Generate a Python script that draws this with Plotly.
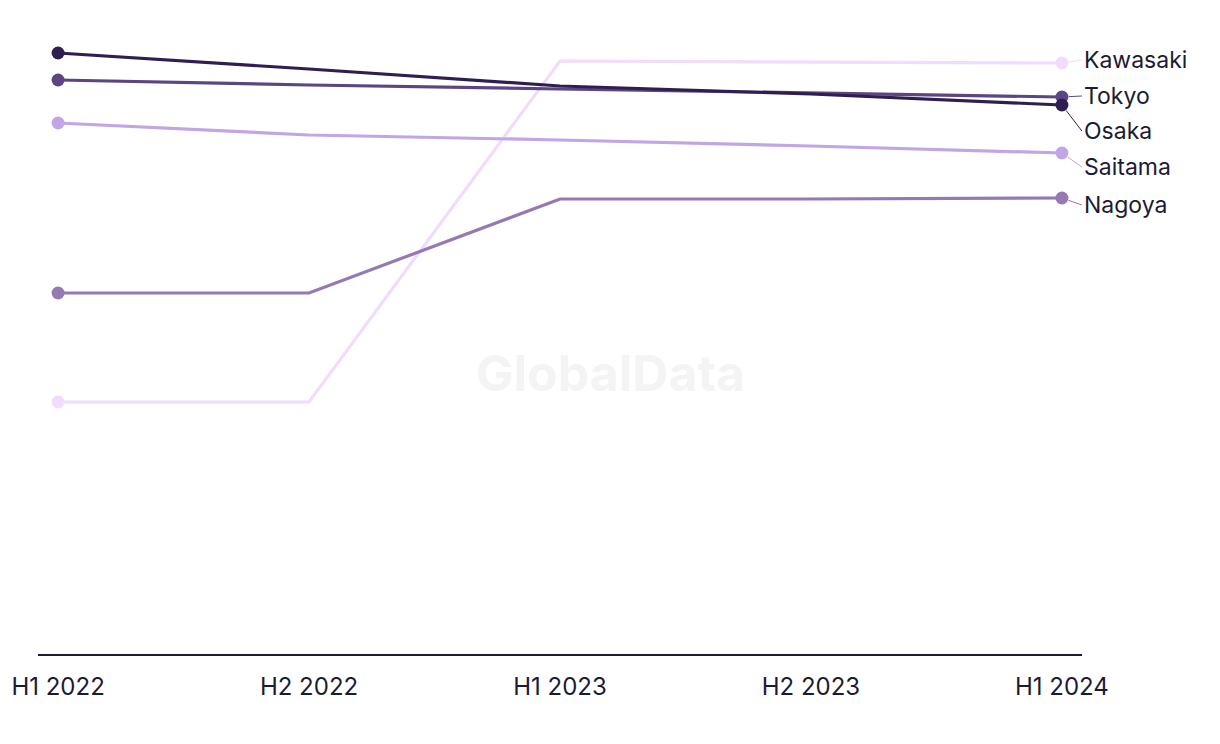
import plotly.graph_objects as go

periods = ["H1 2022", "H2 2022", "H1 2023", "H2 2023", "H1 2024"]
cities = ["Kawasaki", "Saitama", "Nagoya", "Tokyo", "Osaka"]
kawasaki = [25.2, 25.2, 59.3, 59.2, 59.1]
saitama = [53.1, 51.9, 51.4, 50.8, 50.1]
nagoya = [36.1, 36.1, 45.5, 45.5, 45.6]
tokyo = [57.4, 56.9, 56.5, 56.1, 55.7]
osaka = [60.1, 58.5, 56.8, 56.0, 54.9]
series = {"Kawasaki": kawasaki, "Saitama": saitama, "Nagoya": nagoya,
          "Tokyo": tokyo, "Osaka": osaka}

colors = {"Kawasaki": "#f0dcfc", "Saitama": "#c1a6e6", "Nagoya": "#9479b5",
          "Tokyo": "#5b4682", "Osaka": "#2f1f50"}
# vertical pixel offset of each end label from its last point
label_dy = {"Kawasaki": -3, "Tokyo": -1, "Osaka": 26, "Saitama": 14, "Nagoya": 7}

INK = "#1c1b33"
FONT = "Inter, 'Noto Sans', sans-serif"
xs = list(range(len(periods)))

fig = go.Figure()
for c in cities:
    vals = series[c]
    fig.add_trace(go.Scatter(
        x=xs, y=vals, mode="lines", name=c,
        line=dict(color=colors[c], width=3.2),
        hovertemplate=f"<b>{c}</b><br>%{{text}}: %{{y}}<extra></extra>",
        text=periods, showlegend=False))
    # dots on the first and last period only
    fig.add_trace(go.Scatter(
        x=[xs[0], xs[-1]], y=[vals[0], vals[-1]], mode="markers",
        marker=dict(size=13, color=colors[c], opacity=1, line=dict(width=0)),
        hoverinfo="skip", showlegend=False))
    fig.add_annotation(
        x=xs[-1], y=vals[-1], xref="x", yref="y", text=c,
        showarrow=True, arrowhead=0, arrowwidth=1, arrowcolor=colors[c],
        ax=20, ay=label_dy[c], xanchor="left", yanchor="middle",
        standoff=7, font=dict(size=23, color=INK, family=FONT))

fig.add_annotation(x=0.548, y=0.443, xref="paper", yref="paper", text="<b>GlobalData</b>",
                   showarrow=False, font=dict(size=50, color="#f4f4f4", family=FONT))

# the page body adds an 8px offset, so the figure is sized to compensate
fig.update_layout(
    width=1204, height=728,
    margin=dict(l=30, r=130, t=12, b=82),
    paper_bgcolor="white", plot_bgcolor="white",
    font=dict(family=FONT, color=INK, size=23),
)
fig.update_xaxes(range=[-0.08, len(periods) - 1 + 0.08], tickvals=xs, ticktext=periods,
                 showgrid=False, zeroline=False, showline=True, linecolor=INK,
                 linewidth=2, ticks="", tickfont=dict(size=24, color=INK),
                 ticklabelstandoff=10, automargin=False)
fig.update_yaxes(range=[0, 63.4], visible=False, automargin=False)

fig.write_html("out.html")
